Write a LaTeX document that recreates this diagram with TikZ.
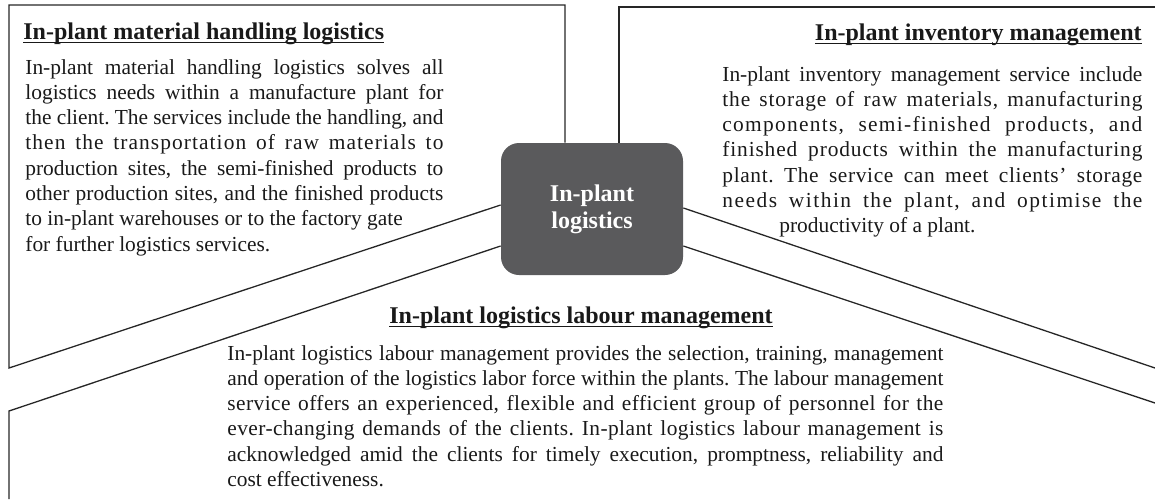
\documentclass[tikz,border=0pt]{standalone}
\usepackage{fontspec}
\setmainfont{Liberation Serif}

\definecolor{hubgray}{RGB}{90,90,92}
\tikzset{
  panel/.style={line width=0.65pt, draw=black!85},
  heading/.style={inner sep=0pt, text=black!90, font=\fontsize{12}{14}\selectfont\bfseries},
  bodytext/.style={inner sep=0pt, text=black!90, font=\fontsize{10.7}{12.65}\selectfont\frenchspacing},
  hub/.style={rounded corners=9pt, fill=hubgray, text=white, minimum width=91pt, minimum height=66pt,
    align=center, font=\fontsize{12}{13.5}\selectfont\bfseries}
}
\newcommand{\jl}[3][0]{\makebox[#2][s]{\addfontfeature{LetterSpace=#1}\spaceskip=.25em plus 1em minus .1em\relax#3}}
\newcommand{\pl}[1]{\mbox{\spaceskip=.25em\relax#1}}
\newcommand{\headline}[1]{\setbox0\hbox{#1}\rlap{\rule[-2.2pt]{\wd0}{0.7pt}}\box0}

\begin{document}
\begin{tikzpicture}[x=0.5pt,y=-0.5pt]
\useasboundingbox (0,0) rectangle (1155,499);

\node[hub] (hub) at (592,209) {In-plant\\logistics};

% panels
\draw[panel] ([xshift=-13.5pt]hub.north) -- (565,5) -- (9,5) -- (9,368) -- ([yshift=2pt]hub.west);
\draw[panel] ([xshift=13.5pt]hub.north) -- (619,7) -- (1155,7);
\draw[panel] ([yshift=0.5pt]hub.east) -- (1155,368);
\draw[panel] ([yshift=-18.5pt]hub.west) -- (9,411) -- (9,499);
\draw[panel] ([yshift=-18.5pt]hub.east) -- (1155,403);

\node[heading, anchor=base west] (handlingtitle) at (23,39) {\headline{In-plant material handling logistics}};
\node[bodytext, anchor=base west, text width=209pt] (handlingtext) at (25,74) {%
\jl{209pt}{In-plant material handling logistics solves all}\\
\jl{209pt}{logistics needs within a manufacture plant for}\\
\jl{209pt}{the client. The services include the handling, and}\\
\jl[5]{209pt}{then the transportation of raw materials to}\\
\jl{209pt}{production sites, the semi-finished products to}\\
\jl{209pt}{other production sites, and the finished products}\\
\pl{to in-plant warehouses or to the factory gate}\\
\pl{for further logistics services.}};

\node[heading, anchor=base east] (inventorytitle) at (1142,40) {\headline{In-plant inventory management}};
\node[bodytext, anchor=base west, text width=210pt] (inventorytext) at (722,81) {%
\jl{210pt}{In-plant inventory management service include}\\
\jl[4]{210pt}{the storage of raw materials, manufacturing}\\
\jl[6]{210pt}{components, semi-finished products, and}\\
\jl[4]{210pt}{finished products within the manufacturing}\\
\jl[3]{210pt}{plant. The service can meet clients’ storage}\\
\jl[7]{210pt}{needs within the plant, and optimise the}\\
\hspace*{28.5pt}\pl{productivity of a plant.}};

\node[heading, anchor=base] (labourtitle) at (581,323) {\headline{In-plant logistics labour management}};
\node[bodytext, anchor=base west, text width=358pt] (labourtext) at (227,360) {%
\jl{358pt}{In-plant logistics labour management provides the selection, training, management}\\
\jl{358pt}{and operation of the logistics labor force within the plants. The labour management}\\
\jl[2]{358pt}{service offers an experienced, flexible and efficient group of personnel for the}\\
\jl[2]{358pt}{ever-changing demands of the clients. In-plant logistics labour management is}\\
\jl{358pt}{acknowledged amid the clients for timely execution, promptness, reliability and}\\
\pl{cost effectiveness.}};
\end{tikzpicture}
\end{document}
